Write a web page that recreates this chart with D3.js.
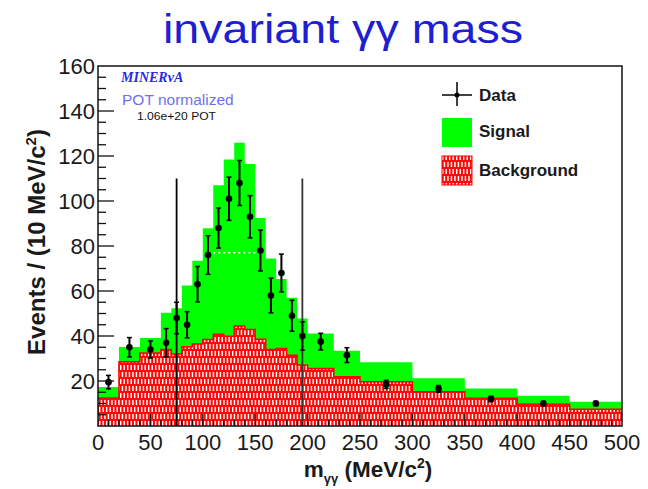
<!DOCTYPE html>
<html>
<head>
<meta charset="utf-8">
<script src="https://cdn.jsdelivr.net/npm/d3@7"></script>
<style>
  body { margin: 0; background: #fff; }
  svg { display: block; font-family: "Liberation Sans", Arial, sans-serif; }
</style>
</head>
<body>
<div id="chart"></div>
<script>
// histogram bin edges (MeV/c^2)
var binEdges = [0, 20, 40, 60, 70, 80, 90, 100, 110, 120, 130, 140, 150, 160, 170, 180, 190, 200, 225, 250, 300, 350, 400, 450, 500];
// background (red hatched) per bin
var background = [12.4, 28.6, 32.4, 34, 32, 35.2, 36.4, 38.5, 40.8, 39.9, 44.4, 42.9, 38.6, 34, 34.4, 31.5, 27.1, 25.6, 21.9, 19.7, 15.2, 12.3, 9.7, 7.4];
// signal + background (green top) per bin
var signalTotal = [17.3, 35.1, 39.1, 50.3, 52.3, 62.5, 73.4, 87.9, 107, 118.4, 125.9, 116.4, 92.4, 74.4, 65.3, 57, 47.8, 41.1, 33.4, 28.3, 21.2, 16.7, 13.4, 10.8];
// data points
var dataX = [10, 30, 50, 65, 75, 85, 95, 105, 115, 125, 135, 145, 155, 165, 175, 185, 195, 212.5, 237.5, 275, 325, 375, 425, 475];
var dataY = [19.5, 35, 34, 37, 48, 45, 63, 76, 88, 101, 108, 93, 78, 58, 68, 49, 40, 37.5, 31.5, 18.5, 16.5, 12, 10, 10];
var dataErr = [3, 4.3, 3.8, 6.3, 7, 5.8, 7.9, 8.6, 8.9, 9.6, 10, 9.4, 9.1, 7.7, 8.4, 6.9, 6.3, 3.7, 3.3, 1.8, 1.5, 1.2, 1, 1];
// selection window and dotted line
var cutLines = [75, 195];
var cutTop = 110;
var dottedLine = [110, 152];
var dottedLevel = 77;

var xTicks = [0, 50, 100, 150, 200, 250, 300, 350, 400, 450, 500];
var yTicks = [20, 40, 60, 80, 100, 120, 140, 160];
var legendLabels = ["Data", "Signal", "Background"];

var W = 648, H = 489;
var svg = d3.select("#chart").append("svg")
    .attr("width", W)
    .attr("height", H);

var x = d3.scaleLinear().domain([0, 500]).range([98, 622]);
var y = d3.scaleLinear().domain([0, 160]).range([426, 66]);

// brick hatch for the background
var defs = svg.append("defs");
var pat = defs.append("pattern")
    .attr("id", "brick")
    .attr("patternUnits", "userSpaceOnUse")
    .attr("width", 7)
    .attr("height", 14);
pat.append("rect").attr("width", 7).attr("height", 14).attr("fill", "#ff0a0a");
[[1, 1], [4.5, 1], [2.75, 8], [6.25, 8], [-0.75, 8]].forEach(function(p) {
  pat.append("rect")
      .attr("x", p[0]).attr("y", p[1])
      .attr("width", 1.4).attr("height", 5)
      .attr("fill", "#fff");
});

// title
svg.append("text")
    .attr("x", 343)
    .attr("y", 43)
    .attr("text-anchor", "middle")
    .attr("fill", "#1f1fd2")
    .attr("font-size", 41)
    .attr("textLength", 360)
    .attr("lengthAdjust", "spacingAndGlyphs")
    .text("invariant γγ mass");

var bins = d3.range(background.length).map(function(i) {
  return {x0: binEdges[i], x1: binEdges[i + 1], bkg: background[i], tot: signalTotal[i]};
});

function stepPoints(key) {
  var pts = [];
  bins.forEach(function(b) {
    pts.push([b.x0, b[key]]);
    pts.push([b.x1, b[key]]);
  });
  return pts;
}

svg.append("path")
    .attr("d", d3.area()
      .x(function(d) { return x(d[0]); })
      .y0(y(0))
      .y1(function(d) { return y(d[1]); })(stepPoints("tot")))
    .attr("fill", "#00ff00");

svg.append("path")
    .attr("d", d3.area()
      .x(function(d) { return x(d[0]); })
      .y0(y(0))
      .y1(function(d) { return y(d[1]); })(stepPoints("bkg")))
    .attr("fill", "url(#brick)");
svg.append("path")
    .attr("d", d3.line()
      .x(function(d) { return x(d[0]); })
      .y(function(d) { return y(d[1]); })(stepPoints("bkg")))
    .attr("fill", "none")
    .attr("stroke", "#ff0000")
    .attr("stroke-width", 1.5);

// dotted white line
svg.append("line")
    .attr("x1", x(dottedLine[0]))
    .attr("x2", x(dottedLine[1]))
    .attr("y1", y(dottedLevel))
    .attr("y2", y(dottedLevel))
    .attr("stroke", "#fff")
    .attr("stroke-width", 1.5)
    .attr("stroke-dasharray", "2,3");

// cut lines
svg.selectAll(".cut")
  .data(cutLines)
  .enter().append("line")
    .attr("x1", function(d) { return x(d); })
    .attr("x2", function(d) { return x(d); })
    .attr("y1", y(0))
    .attr("y2", y(cutTop))
    .attr("stroke", function(d, i) { return i ? "#333" : "#000"; })
    .attr("stroke-width", 1.8);

// data points with error bars
var pts = d3.range(dataX.length).map(function(i) {
  return {x: dataX[i], y: dataY[i], e: dataErr[i]};
});
var g = svg.append("g");
g.selectAll(".eb")
  .data(pts)
  .enter().append("line")
    .attr("x1", function(d) { return x(d.x); })
    .attr("x2", function(d) { return x(d.x); })
    .attr("y1", function(d) { return y(d.y - d.e); })
    .attr("y2", function(d) { return y(d.y + d.e); })
    .attr("stroke", "#000")
    .attr("stroke-width", 2);
[-1, 1].forEach(function(s) {
  g.selectAll(".cap" + s)
    .data(pts)
    .enter().append("line")
      .attr("x1", function(d) { return x(d.x) - 2.5; })
      .attr("x2", function(d) { return x(d.x) + 2.5; })
      .attr("y1", function(d) { return y(d.y + s * d.e); })
      .attr("y2", function(d) { return y(d.y + s * d.e); })
      .attr("stroke", "#000")
      .attr("stroke-width", 1.5);
});
g.selectAll("circle")
  .data(pts)
  .enter().append("circle")
    .attr("cx", function(d) { return x(d.x); })
    .attr("cy", function(d) { return y(d.y); })
    .attr("r", 3.3)
    .attr("fill", "#000");

// frame
svg.append("rect")
    .attr("x", x(0))
    .attr("y", y(160))
    .attr("width", x(500) - x(0))
    .attr("height", y(0) - y(160))
    .attr("fill", "none")
    .attr("stroke", "#111")
    .attr("stroke-width", 1.5);

// ticks
svg.selectAll(".ymin")
  .data(d3.range(5, 160, 5))
  .enter().append("line")
    .attr("x1", x(0))
    .attr("x2", function(d) { return x(0) + (d % 20 === 0 ? 16 : 8); })
    .attr("y1", function(d) { return y(d); })
    .attr("y2", function(d) { return y(d); })
    .attr("stroke", "#111")
    .attr("stroke-width", 1.3);
svg.selectAll(".xmin")
  .data(d3.range(10, 500, 10))
  .enter().append("line")
    .attr("x1", function(d) { return x(d); })
    .attr("x2", function(d) { return x(d); })
    .attr("y1", y(0))
    .attr("y2", function(d) { return y(0) - (d % 50 === 0 ? 12 : 6); })
    .attr("stroke", "#111")
    .attr("stroke-width", 1.3);

svg.selectAll(".ylab")
  .data(yTicks)
  .enter().append("text")
    .attr("x", 95)
    .attr("y", function(d) { return y(d) + 8; })
    .attr("text-anchor", "end")
    .attr("font-size", 22)
    .attr("fill", "#1a1a1a")
    .text(function(d) { return d; });
svg.selectAll(".xlab")
  .data(xTicks)
  .enter().append("text")
    .attr("x", function(d) { return x(d); })
    .attr("y", 450)
    .attr("text-anchor", "middle")
    .attr("font-size", 22)
    .attr("fill", "#1a1a1a")
    .text(function(d) { return d; });

// axis titles
var yt = svg.append("text")
    .attr("transform", "translate(45,242) rotate(-90)")
    .attr("text-anchor", "middle")
    .attr("font-size", 24)
    .attr("font-weight", "bold")
    .attr("fill", "#1a1a1a");
yt.append("tspan").text("Events / (10 MeV/c");
yt.append("tspan").attr("font-size", 15).attr("dy", -9).text("2");
yt.append("tspan").attr("dy", 9).text(")");

var xt = svg.append("text")
    .attr("x", 368)
    .attr("y", 477)
    .attr("text-anchor", "middle")
    .attr("font-size", 22.5)
    .attr("font-weight", "bold")
    .attr("fill", "#1a1a1a");
xt.append("tspan").text("m");
xt.append("tspan").attr("font-size", 13).attr("dy", 6).text("γγ");
xt.append("tspan").attr("dy", -6).text(" (MeV/c");
xt.append("tspan").attr("font-size", 14).attr("dy", -9).text("2");
xt.append("tspan").attr("dy", 9).text(")");

// labels in the plot
svg.append("text")
    .attr("x", 121)
    .attr("y", 82)
    .attr("font-family", "Liberation Serif, serif")
    .attr("font-style", "italic")
    .attr("font-weight", "bold")
    .attr("font-size", 14)
    .attr("fill", "#2a2ae6")
    .text("MINERvA");
svg.append("text")
    .attr("x", 122)
    .attr("y", 105)
    .attr("font-size", 15.5)
    .attr("fill", "#7070f0")
    .text("POT normalized");
svg.append("text")
    .attr("x", 137)
    .attr("y", 120)
    .attr("font-size", 10)
    .attr("textLength", 79)
    .attr("lengthAdjust", "spacingAndGlyphs")
    .attr("fill", "#111")
    .text("1.06e+20 POT");

// legend
var leg = svg.append("g");
leg.append("line").attr("x1", 442).attr("x2", 472).attr("y1", 95).attr("y2", 95).attr("stroke", "#000").attr("stroke-width", 1.5);
leg.append("line").attr("x1", 457).attr("x2", 457).attr("y1", 82).attr("y2", 106).attr("stroke", "#000").attr("stroke-width", 1.5);
leg.append("circle").attr("cx", 457).attr("cy", 95).attr("r", 2.5).attr("fill", "#000");
leg.append("rect").attr("x", 442).attr("y", 118).attr("width", 30).attr("height", 29).attr("fill", "#00ff00");
leg.append("rect").attr("x", 442).attr("y", 156).attr("width", 30).attr("height", 29).attr("fill", "url(#brick)").attr("stroke", "#ff0000");
leg.selectAll(".lt")
  .data(legendLabels)
  .enter().append("text")
    .attr("x", 479)
    .attr("y", function(d, i) { return [101, 137, 176][i]; })
    .attr("font-size", 17)
    .attr("font-weight", "bold")
    .attr("fill", "#1a1a1a")
    .text(function(d) { return d; });
</script>
</body>
</html>
